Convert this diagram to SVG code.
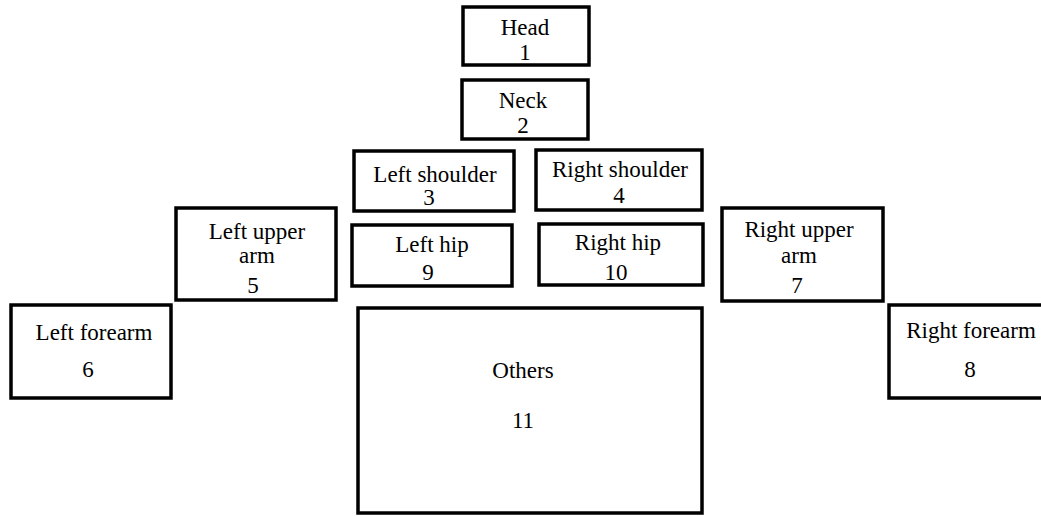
<svg xmlns="http://www.w3.org/2000/svg" width="1041" height="516" viewBox="0 0 1041 516">
<style>
rect.box{fill:#fff;stroke:#000;stroke-width:3.5}
text{font-family:'Liberation Serif','Tinos','Times New Roman','DejaVu Serif',serif;font-size:23px;fill:#000;text-anchor:middle}
</style>
<rect width="1041" height="516" fill="#fff"/>
<g id="head"><rect class="box" x="463" y="7" width="126" height="58"/><text x="525" y="35">Head</text><text x="525" y="60">1</text></g>
<g id="neck"><rect class="box" x="462" y="80" width="126" height="59"/><text x="523" y="108">Neck</text><text x="523" y="133">2</text></g>
<g id="left-shoulder"><rect class="box" x="354" y="151" width="160" height="60"/><text x="435" y="182">Left shoulder</text><text x="429" y="205">3</text></g>
<g id="right-shoulder"><rect class="box" x="536" y="150" width="166" height="60"/><text x="620" y="177">Right shoulder</text><text x="619" y="203">4</text></g>
<g id="left-hip"><rect class="box" x="352" y="225" width="160" height="61"/><text x="432" y="252">Left hip</text><text x="428" y="280">9</text></g>
<g id="right-hip"><rect class="box" x="539" y="224" width="164" height="61"/><text x="618" y="250">Right hip</text><text x="616" y="280">10</text></g>
<g id="left-upper-arm"><rect class="box" x="176" y="208" width="160" height="92"/><text x="257" y="239">Left upper</text><text x="257" y="263">arm</text><text x="253" y="293">5</text></g>
<g id="right-upper-arm"><rect class="box" x="722" y="208" width="161" height="93"/><text x="799" y="237">Right upper</text><text x="799" y="263">arm</text><text x="797" y="293">7</text></g>
<g id="left-forearm"><rect class="box" x="11" y="305" width="160" height="93"/><text x="94" y="340">Left forearm</text><text x="88" y="377">6</text></g>
<g id="right-forearm"><rect class="box" x="889" y="305" width="170" height="93"/><text x="971" y="338">Right forearm</text><text x="970" y="377">8</text></g>
<g id="others"><rect class="box" x="358" y="308" width="344" height="205"/><text x="523" y="378">Others</text><text x="523" y="428">11</text></g>
<g id="connectors"></g>
</svg>
